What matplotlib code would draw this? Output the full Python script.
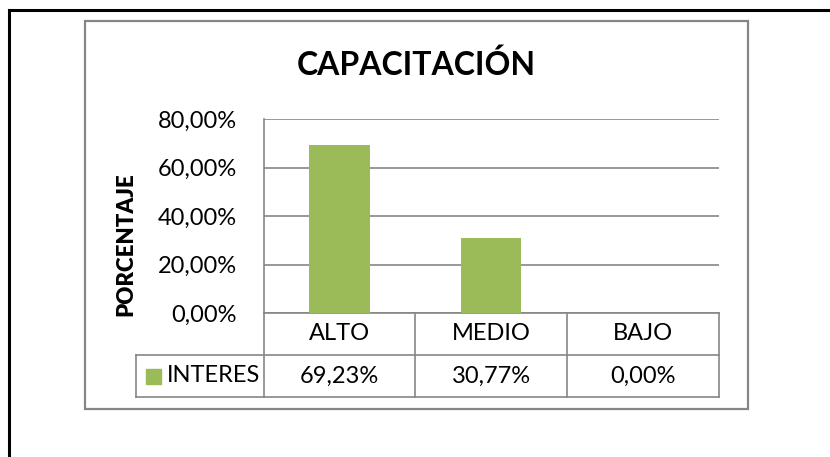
import matplotlib
matplotlib.use('Agg')
import matplotlib.pyplot as plt
import matplotlib.transforms as mtransforms
from matplotlib.patches import Rectangle
from matplotlib.lines import Line2D

categorias = ['ALTO', 'MEDIO', 'BAJO']
interes = [69.23, 30.77, 0.00]
serie = 'INTERES'
y_ticks = [0, 20, 40, 60, 80]

verde = '#9BBB59'
gris = '#868686'

plt.rcParams['font.family'] = ['Lato', 'DejaVu Sans']

W, H = 830, 457
fig = plt.figure(figsize=(W / 100, H / 100), dpi=100)


def fx(px):
    return px / W


def fy(py):
    return 1 - py / H


def pct(v):
    return f'{v:.2f}%'.replace('.', ',')


# marco negro exterior (solo arriba e izquierda visibles)
fig.add_artist(Line2D([fx(9), fx(830)], [fy(9.5), fy(9.5)], color='black', lw=2.2))
fig.add_artist(Line2D([fx(9), fx(9)], [fy(9.5), fy(457)], color='black', lw=2.2))

# recuadro del grafico
fig.add_artist(Rectangle((fx(85), fy(409)), fx(748) - fx(85), fy(20.5) - fy(409),
                         fill=False, edgecolor=gris, lw=1.6))

ax_l, ax_r, ax_t, ax_b = 263.5, 718.5, 119, 313
ax = fig.add_axes([fx(ax_l), fy(ax_b), fx(ax_r) - fx(ax_l), fy(ax_t) - fy(ax_b)])
x = list(range(len(categorias)))
ax.bar(x, interes, width=0.4, color=verde, zorder=3)
ax.set_xlim(-0.5, len(categorias) - 0.5)
ax.set_ylim(0, 80)
ax.set_yticks(y_ticks)
ax.set_yticklabels([pct(v) for v in y_ticks], fontsize=17)
ax.tick_params(axis='y', length=0, pad=19)
ax.set_xticks([])
ax.grid(axis='y', color=gris, lw=1.2, zorder=0)
for s in ['top', 'right', 'bottom']:
    ax.spines[s].set_visible(False)
ax.spines['left'].set_color(gris)
ax.spines['left'].set_linewidth(1.2)

# tabla de datos (x en datos, y en fraccion de eje)
tr = mtransforms.blended_transform_factory(ax.transData, ax.transAxes)
alto_px = ax_b - ax_t
y_fila1 = -(355 - ax_b) / alto_px
y_fila2 = -(397 - ax_b) / alto_px
px_unidad = (ax_r - ax_l) / len(categorias)
x_ley = -0.5 - (ax_l - 136) / px_unidad
x_fin = len(categorias) - 0.5

lin = dict(color=gris, lw=1.2, transform=tr, clip_on=False)
ax.plot([-0.5, x_fin], [0, 0], **lin)
ax.plot([x_ley, x_fin], [y_fila1, y_fila1], **lin)
ax.plot([x_ley, x_fin], [y_fila2, y_fila2], **lin)
ax.plot([x_ley, x_ley], [y_fila1, y_fila2], **lin)
for i in range(len(categorias) + 1):
    ax.plot([i - 0.5, i - 0.5], [0, y_fila2], **lin)

for i, (cat, v) in enumerate(zip(categorias, interes)):
    ax.text(i, y_fila1 / 2, cat, transform=tr, ha='center', va='center', fontsize=17)
    ax.text(i, (y_fila1 + y_fila2) / 2, pct(v), transform=tr, ha='center',
            va='center', fontsize=17)

# leyenda dentro de la tabla
ax.add_patch(Rectangle((-0.5 - (ax_l - 146) / px_unidad, -(384 - ax_b) / alto_px),
                       15 / px_unidad, 15 / alto_px, transform=tr, color=verde,
                       clip_on=False))
ax.text(-0.5 - (ax_l - 167) / px_unidad, (y_fila1 + y_fila2) / 2, serie,
        transform=tr, ha='left', va='center', fontsize=17)

fig.text(fx(416), fy(65), 'CAPACITACIÓN', ha='center', va='center',
         fontsize=23, fontweight='bold')
fig.text(fx(126), fy(244), 'PORCENTAJE', ha='center', va='center',
         rotation=90, fontsize=16, fontweight='heavy')

fig.savefig('out.png', dpi=100)
